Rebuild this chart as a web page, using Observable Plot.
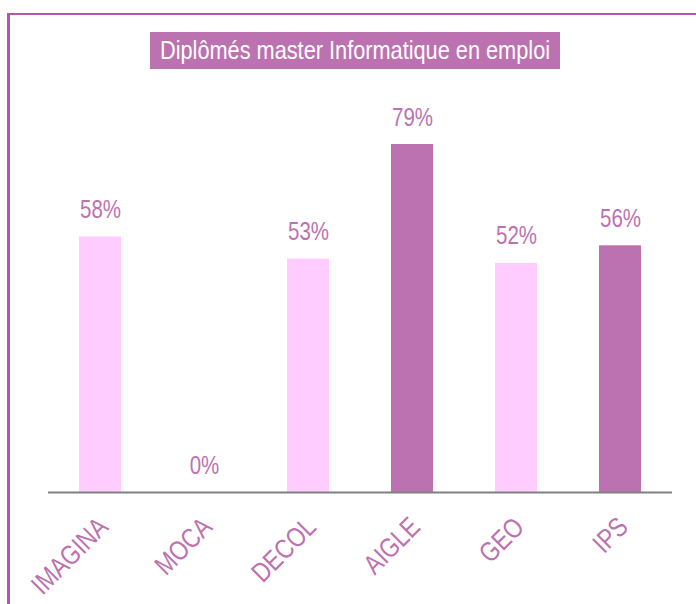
<!DOCTYPE html>
<html>
<head>
<meta charset="utf-8">
<script src="https://cdn.jsdelivr.net/npm/d3@7"></script>
<script src="https://cdn.jsdelivr.net/npm/@observablehq/plot@0.6"></script>
<style>
  html, body { margin: 0; padding: 0; background: #fff; }
  #wrap { position: relative; width: 696px; height: 604px; overflow: hidden; }
  #frame { position: absolute; left: 7px; top: 13px; width: 700px; height: 600px;
           border-top: 2px solid #B25AA9; border-left: 3px solid #B25AA9; box-sizing: border-box; }
  #title { position: absolute; left: 150px; top: 32px; width: 410px; height: 37px;
           background: #BC72B0; color: #fff; font-family: "Liberation Sans", Arial, sans-serif;
           font-size: 26.5px; line-height: 37px; white-space: nowrap; }
  #title span { position: absolute; left: 50%; top: 0; transform: translateX(-50%) scaleX(0.82); }
  #chart { position: absolute; left: 0; top: 0; }
</style>
</head>
<body>
<div id="wrap">
  <div id="chart"></div>
  <div id="frame"></div>
  <div id="title"><span>Diplômés master Informatique en emploi</span></div>
</div>
<script>
const categories = ["IMAGINA", "MOCA", "DECOL", "AIGLE", "GEO", "IPS"];
const values = [58, 0, 53, 79, 52, 56];
const highlighted = ["AIGLE", "IPS"];

const PINK = "#FFCCFF";
const PURPLE = "#BC72B0";
const FONT = '"Liberation Sans", Arial, sans-serif';

const data = categories.map((c, i) => ({cat: c, value: values[i]}));

const chart = Plot.plot({
  width: 696,
  height: 604,
  marginLeft: 48,
  marginRight: 24,
  marginTop: 51.5,
  marginBottom: 112,
  style: {fontFamily: FONT, background: "transparent"},
  x: {domain: categories, paddingInner: 0.6, paddingOuter: 0.3, axis: null},
  y: {domain: [0, 100], axis: null},
  marks: [
    Plot.barY(data, {x: "cat", y: "value", fill: d => highlighted.includes(d.cat) ? PURPLE : PINK}),
    Plot.ruleY([0], {stroke: "#808080", strokeWidth: 2}),
    Plot.text(data, {x: "cat", y: "value", text: d => d.value + "%", dy: -27, fill: PURPLE,
                     fontSize: 25, lineAnchor: "middle", className: "narrow"}),
    Plot.text(data, {x: "cat", y: () => 0, text: "cat", rotate: -45, textAnchor: "end",
                     lineAnchor: "middle", dx: 3, dy: 30, fill: PURPLE, fontSize: 27.5, className: "narrow"})
  ]
});
// condensed look (Arial Narrow-like): compress text horizontally along its baseline
d3.select(chart).selectAll("g.narrow text").each(function () {
  const t = this.getAttribute("transform") || "";
  this.setAttribute("transform", t + " scale(0.82,1)");
});
document.getElementById("chart").appendChild(chart);
</script>
</body>
</html>
